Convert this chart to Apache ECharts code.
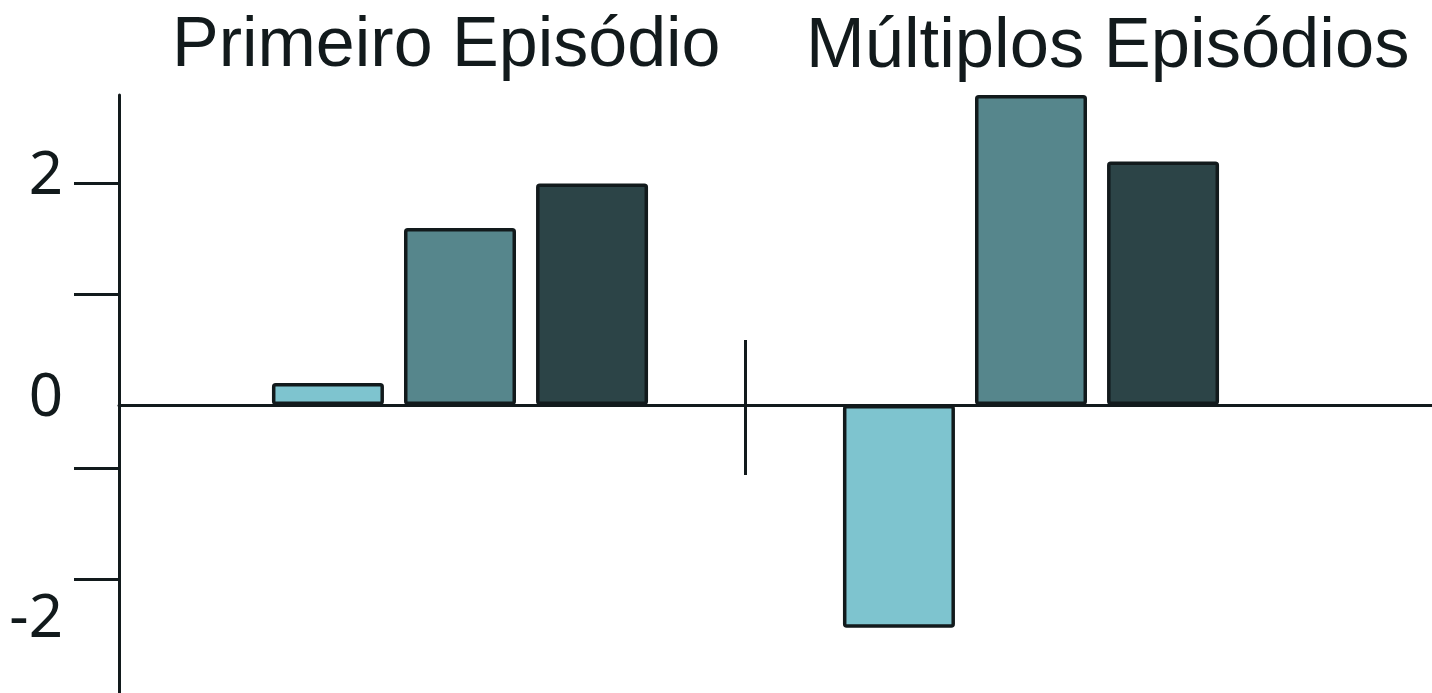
<!DOCTYPE html>
<html>
<head>
<meta charset="utf-8">
<script src="https://cdn.jsdelivr.net/npm/echarts@6/dist/echarts.min.js"></script>
<style>
  html, body { margin: 0; padding: 0; background: #fff; }
  #chart { width: 1432px; height: 693px; }
</style>
</head>
<body>
<div id="chart"></div>
<script>
// dados
const groups = ['Primeiro Episódio', 'Múltiplos Episódios']
const firstBars = [0.2, -2.01]
const secondBars = [1.6, 2.8]
const thirdBars = [2.0, 2.2]
const yLabelValues = [-2, 0, 2]
const yTickValues = [2, 1, -0.57, -1.57]
const separatorValues = [1]

const colors = ['#7ec4cf', '#56868c', '#2c4447']
const ink = '#121a1c'
const yMin = -2.6
const yMax = 2.8

const chart = echarts.init(document.getElementById('chart'))

function barSeries(data, color) {
  return {
    type: 'bar',
    xAxisIndex: 0,
    yAxisIndex: 0,
    data: data,
    barWidth: 112,
    barGap: '17.9%',
    itemStyle: {
      color: color,
      borderColor: ink,
      borderWidth: 3.5,
      borderRadius: 2
    }
  }
}

// eixo x auxiliar para o traço separador (valor 1 = fronteira entre os grupos)
function separatorAxis(inside, length) {
  return {
    type: 'value',
    gridIndex: 0,
    position: 'bottom',
    min: 0,
    max: 2,
    axisLine: { show: false, onZero: true, onZeroAxisIndex: 0 },
    axisTick: { show: true, inside: inside, length: length, customValues: separatorValues, lineStyle: { color: ink, width: 3 } },
    axisLabel: { show: false },
    splitLine: { show: false }
  }
}

const titleStyle = { fontFamily: 'Liberation Sans', fontSize: 70, fontWeight: 'normal', color: ink }

const option = {
  animation: false,
  title: [
    { text: groups[0], left: 172, top: 12, padding: 0, textStyle: titleStyle },
    { text: groups[1], left: 806, top: 12, padding: 0, textStyle: { ...titleStyle, fontSize: 70.5 } }
  ],
  grid: [
    { left: 174.5, right: 115.5, top: 95, bottom: 0 },
    { left: 119, right: 0, top: 95, bottom: 0 }
  ],
  xAxis: [
    {
      type: 'category',
      gridIndex: 0,
      data: groups,
      axisLine: { show: false },
      axisTick: { show: false },
      axisLabel: { show: false }
    },
    separatorAxis(true, 65),
    separatorAxis(false, 70),
    { // linha do zero
      type: 'value',
      gridIndex: 1,
      min: 0,
      max: 1,
      axisLine: { show: true, lineStyle: { color: ink, width: 3 } },
      axisTick: { show: false },
      axisLabel: { show: false },
      splitLine: { show: false }
    }
  ],
  yAxis: [
    {
      type: 'value',
      gridIndex: 0,
      min: yMin,
      max: yMax,
      axisLine: { show: false },
      axisTick: { show: false },
      axisLabel: { show: false },
      splitLine: { show: false }
    },
    {
      type: 'value',
      gridIndex: 1,
      min: yMin,
      max: yMax,
      axisLine: { show: true, onZero: false, lineStyle: { color: ink, width: 3 } },
      axisTick: { show: true, length: 45, customValues: yTickValues, lineStyle: { color: ink, width: 3 } },
      axisLabel: {
        show: true,
        customValues: yLabelValues,
        margin: 56,
        formatter: '{n|{value}}',
        rich: {
          n: {
            fontFamily: 'Noto Sans',
            fontSize: 60,
            color: ink,
            padding: [0, 0, 13, 0]
          }
        }
      },
      splitLine: { show: false }
    }
  ],
  series: [
    barSeries(firstBars, colors[0]),
    barSeries(secondBars, colors[1]),
    barSeries(thirdBars, colors[2])
  ]
}

chart.setOption(option, true)
</script>
</body>
</html>
